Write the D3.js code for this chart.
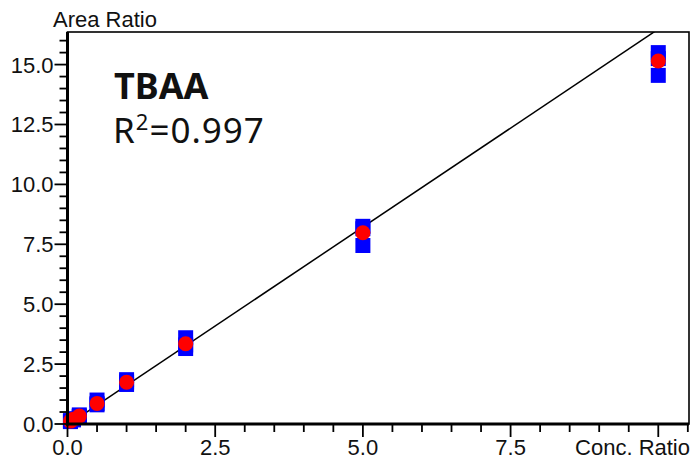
<!DOCTYPE html>
<html>
<head>
<meta charset="utf-8">
<script src="https://cdn.jsdelivr.net/npm/d3@7"></script>
<style>
  body { margin: 0; background: #fff; }
  text { font-family: "Liberation Sans", Arial, sans-serif; fill: #111; }
</style>
</head>
<body>
<div id="chart"></div>
<script>
// replicate measurements (blue squares) and their means (red circles)
const concRatio = [0.05, 0.1, 0.2, 0.5, 1, 2, 5, 10];
const rep1 = [0.14, 0.22, 0.38, 1.00, 1.85, 3.60, 8.25, 15.50];
const rep2 = [0.12, 0.20, 0.33, 0.85, 1.75, 3.30, 8.15, 15.25];
const rep3 = [0.10, 0.17, 0.30, 0.80, 1.65, 3.15, 7.45, 14.55];
const meanRatio = [0.12, 0.20, 0.33, 0.86, 1.74, 3.35, 7.98, 15.15];

const fitSlope = 1.652, fitIntercept = -0.04;
const compound = "TBAA";
const r2Text = "0.997";

const xTicks = [0, 2.5, 5, 7.5, 10];
const yTicks = [0, 2.5, 5, 7.5, 10, 12.5, 15];

const width = 691, height = 459;
const margin = {top: 32, right: 2, bottom: 35, left: 67.5};
const w = width - margin.left - margin.right;
const h = height - margin.top - margin.bottom;

const svg = d3.select("#chart")
    .append("svg")
    .attr("width", width)
    .attr("height", height);

const g = svg.append("g")
    .attr("transform", `translate(${margin.left},${margin.top})`);

const x = d3.scaleLinear().domain([0, 10.52]).range([0, w]);
const y = d3.scaleLinear().domain([0, 16.36]).range([h, 0]);

// minor ticks every 0.5
const xMinor = d3.range(0, 10.51, 0.5).filter(v => !xTicks.includes(v));
const yMinor = d3.range(0, 16.01, 0.5).filter(v => !yTicks.includes(v));

// frame (top + right thinner)
g.append("rect")
    .attr("x", 0).attr("y", 0)
    .attr("width", w).attr("height", h)
    .attr("fill", "none")
    .attr("stroke", "#000")
    .attr("stroke-width", 1.6);

// fit line, clipped to plot
g.append("clipPath").attr("id", "clip")
    .append("rect").attr("width", w).attr("height", h);

const line = d3.line().x(d => x(d)).y(d => y(fitSlope * d + fitIntercept));
g.append("path")
    .datum([0, 10.52])
    .attr("clip-path", "url(#clip)")
    .attr("d", line)
    .attr("fill", "none")
    .attr("stroke", "#000")
    .attr("stroke-width", 1.5);

// blue squares
const sq = 15;
[rep1, rep2, rep3].forEach(rep => {
    g.selectAll(null)
        .data(concRatio.map((c, i) => ({c: c, v: rep[i]})))
        .join("rect")
        .attr("x", d => x(d.c) - sq / 2)
        .attr("y", d => y(d.v) - sq / 2)
        .attr("width", sq)
        .attr("height", sq)
        .attr("fill", "#0000ff");
});

// red circles
g.selectAll(null)
    .data(concRatio.map((c, i) => ({c: c, v: meanRatio[i]})))
    .join("circle")
    .attr("cx", d => x(d.c))
    .attr("cy", d => y(d.v))
    .attr("r", 7.5)
    .attr("fill", "#ff0000");

// axes
const xAxis = g.append("g").attr("transform", `translate(0,${h})`);
xAxis.append("line").attr("x1", -1.5).attr("x2", w).attr("stroke", "#000").attr("stroke-width", 3);
xAxis.selectAll(".minor").data(xMinor).join("line")
    .attr("x1", d => x(d)).attr("x2", d => x(d))
    .attr("y1", 0).attr("y2", 8)
    .attr("stroke", "#000").attr("stroke-width", 1.8);
xAxis.selectAll(".major").data(xTicks).join("line")
    .attr("x1", d => x(d)).attr("x2", d => x(d))
    .attr("y1", 0).attr("y2", 13)
    .attr("stroke", "#000").attr("stroke-width", 1.8);
xAxis.selectAll("text").data(xTicks.filter(v => v < 10)).join("text")
    .attr("x", d => x(d))
    .attr("y", 31)
    .attr("text-anchor", "middle")
    .style("font-size", "22px")
    .text(d => d.toFixed(1));

const yAxis = g.append("g");
yAxis.append("line").attr("y1", 0).attr("y2", h + 1.5).attr("stroke", "#000").attr("stroke-width", 3);
yAxis.selectAll(".minor").data(yMinor).join("line")
    .attr("y1", d => y(d)).attr("y2", d => y(d))
    .attr("x1", 0).attr("x2", -8)
    .attr("stroke", "#000").attr("stroke-width", 1.8);
yAxis.selectAll(".major").data(yTicks).join("line")
    .attr("y1", d => y(d)).attr("y2", d => y(d))
    .attr("x1", 0).attr("x2", -13)
    .attr("stroke", "#000").attr("stroke-width", 1.8);
yAxis.selectAll("text").data(yTicks).join("text")
    .attr("x", -14)
    .attr("y", d => y(d))
    .attr("dy", "0.36em")
    .attr("text-anchor", "end")
    .style("font-size", "22px")
    .text(d => d.toFixed(1));

// axis titles
svg.append("text")
    .attr("x", 53).attr("y", 27)
    .style("font-size", "22px")
    .text("Area Ratio");

svg.append("text")
    .attr("x", 690).attr("y", 455)
    .attr("text-anchor", "end")
    .style("font-size", "22px")
    .text("Conc. Ratio");

// annotation
svg.append("text")
    .attr("x", 114).attr("y", 99)
    .style("font-family", "'Noto Sans', sans-serif")
    .style("font-weight", "bold")
    .style("font-size", "36px")
    .text(compound);

const r2 = svg.append("text")
    .attr("x", 113).attr("y", 143)
    .style("font-family", "'Noto Sans', sans-serif")
    .style("font-size", "35px")
    .style("letter-spacing", "1px");
r2.append("tspan").text("R");
r2.append("tspan").attr("dy", -13).style("font-size", "22px").text("2");
r2.append("tspan").attr("dy", 13).text("=" + r2Text);
</script>
</body>
</html>
